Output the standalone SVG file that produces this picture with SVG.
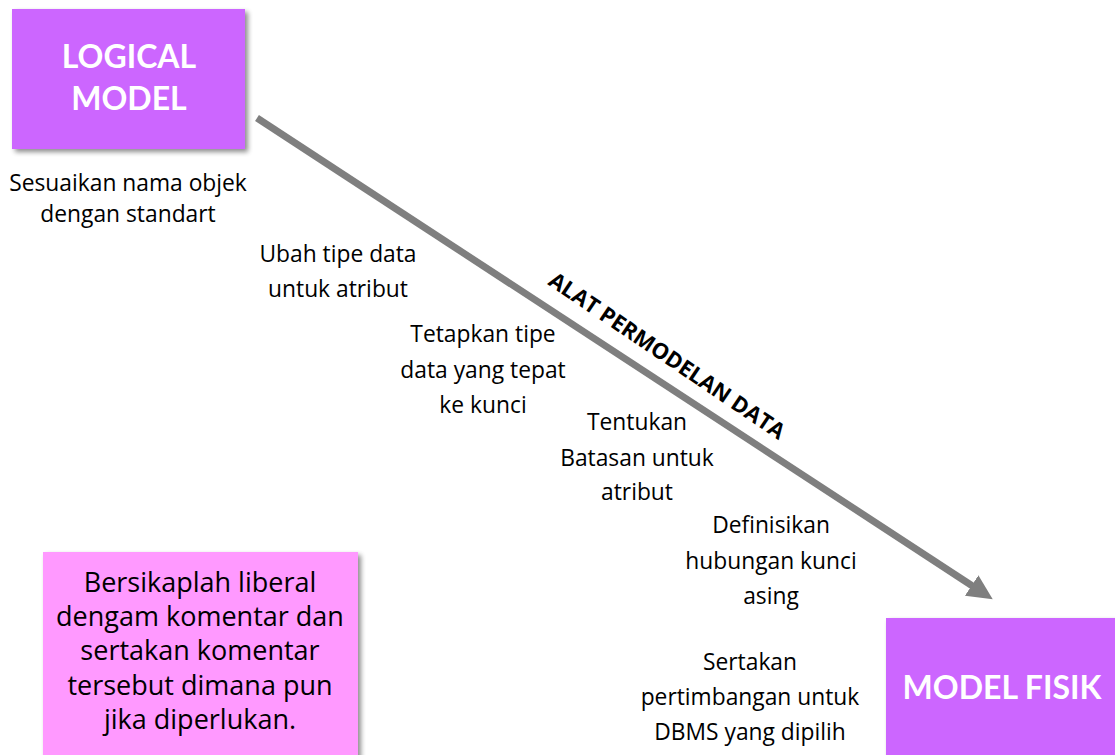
<svg xmlns="http://www.w3.org/2000/svg" width="1115" height="755" viewBox="0 0 1115 755">
  <style>
    .model { fill: #CC66FF; }
    .note { fill: #FF99FF; }
    .title { font-family: Lato, "Open Sans", sans-serif; font-weight: bold; font-size: 32px; fill: #FFFFFF; text-anchor: middle; }
    .step { font-family: "Open Sans", Lato, sans-serif; font-size: 22.8px; fill: #000000; text-anchor: middle; }
    .noteText { font-family: "Open Sans", Lato, sans-serif; font-size: 27px; fill: #000000; text-anchor: middle; }
    .tool { font-family: "Open Sans", Lato, sans-serif; font-weight: bold; font-size: 22px; fill: #000000; }
  </style>
  <defs>
    <filter id="shadow" x="-10%" y="-10%" width="125%" height="125%">
      <feGaussianBlur in="SourceAlpha" stdDeviation="2.5"/>
      <feOffset dx="3" dy="3" result="b"/>
      <feComponentTransfer><feFuncA type="linear" slope="0.45"/></feComponentTransfer>
      <feMerge><feMergeNode/><feMergeNode in="SourceGraphic"/></feMerge>
    </filter>
    <marker id="head" markerWidth="4" markerHeight="4" refX="0.4" refY="1.75" orient="auto" markerUnits="strokeWidth">
      <path d="M0,0 L3.6,1.75 L0,3.5 Z" fill="#7F7F7F"/>
    </marker>
  </defs>

  <rect width="1115" height="755" fill="#FFFFFF"/>

  <g id="connectors">
    <line x1="257" y1="118" x2="974" y2="587" stroke="#7F7F7F" stroke-width="7" marker-end="url(#head)"/>
    <text class="tool" transform="translate(547,284) rotate(34)">ALAT PERMODELAN DATA</text>
  </g>

  <g id="logical-model">
    <rect class="model" x="12" y="9" width="233" height="140" filter="url(#shadow)"/>
    <text class="title" x="129" y="68">LOGICAL</text>
    <text class="title" x="129" y="110">MODEL</text>
  </g>

  <g id="model-fisik">
    <rect class="model" x="886" y="618" width="240" height="150" filter="url(#shadow)"/>
    <text class="title" x="1002" y="699">MODEL FISIK</text>
  </g>

  <g id="note">
    <rect class="note" x="43" y="552" width="315" height="215" filter="url(#shadow)"/>
    <text class="noteText" x="200" y="592">Bersikaplah liberal</text>
    <text class="noteText" x="200" y="626">dengam komentar dan</text>
    <text class="noteText" x="200" y="660">sertakan komentar</text>
    <text class="noteText" x="200" y="695">tersebut dimana pun</text>
    <text class="noteText" x="200" y="729">jika diperlukan.</text>
  </g>

  <g id="step-1">
    <text class="step" x="128" y="191">Sesuaikan nama objek</text>
    <text class="step" x="128" y="222">dengan standart</text>
  </g>
  <g id="step-2">
    <text class="step" x="338" y="262">Ubah tipe data</text>
    <text class="step" x="338" y="297">untuk atribut</text>
  </g>
  <g id="step-3">
    <text class="step" x="483" y="342">Tetapkan tipe</text>
    <text class="step" x="483" y="378">data yang tepat</text>
    <text class="step" x="483" y="413">ke kunci</text>
  </g>
  <g id="step-4">
    <text class="step" x="637" y="430">Tentukan</text>
    <text class="step" x="637" y="466">Batasan untuk</text>
    <text class="step" x="637" y="500">atribut</text>
  </g>
  <g id="step-5">
    <text class="step" x="771" y="533">Definisikan</text>
    <text class="step" x="771" y="569">hubungan kunci</text>
    <text class="step" x="771" y="604">asing</text>
  </g>
  <g id="step-6">
    <text class="step" x="750" y="670">Sertakan</text>
    <text class="step" x="750" y="705">pertimbangan untuk</text>
    <text class="step" x="750" y="740">DBMS yang dipilih</text>
  </g>
</svg>
